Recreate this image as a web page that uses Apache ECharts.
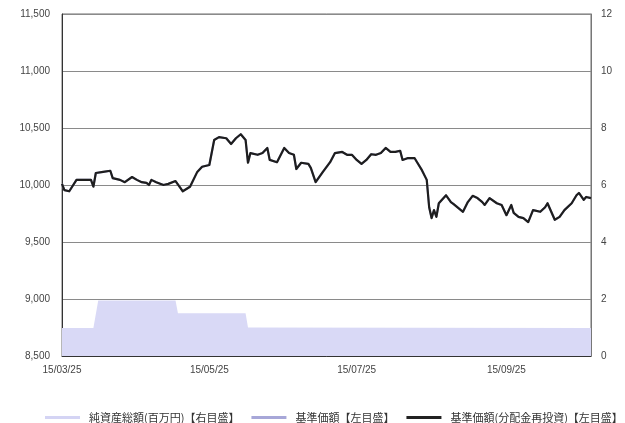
<!DOCTYPE html>
<html>
<head>
<meta charset="utf-8">
<script src="https://cdn.jsdelivr.net/npm/echarts@6/dist/echarts.min.js"></script>
<style>
  html, body { margin: 0; padding: 0; background: #fff; }
  #chart { width: 625px; height: 423px; }
</style>
</head>
<body>
<div id="chart"></div>
<script>
// 基準価額（分配金再投資）の推移 — 日付と値
const navDates = [
  '2015-03-25','2015-03-26','2015-03-28','2015-03-31','2015-04-06','2015-04-07','2015-04-08','2015-04-11',
  '2015-04-14','2015-04-15','2015-04-18','2015-04-20','2015-04-23','2015-04-25','2015-04-27','2015-04-29',
  '2015-04-30','2015-05-01','2015-05-03','2015-05-06','2015-05-08','2015-05-11','2015-05-13','2015-05-14',
  '2015-05-17','2015-05-20','2015-05-22','2015-05-25','2015-05-27','2015-05-29','2015-06-01','2015-06-03',
  '2015-06-05','2015-06-07','2015-06-09','2015-06-10','2015-06-11','2015-06-14','2015-06-16','2015-06-18',
  '2015-06-19','2015-06-22','2015-06-25','2015-06-27','2015-06-29','2015-06-30','2015-07-02','2015-07-05',
  '2015-07-06','2015-07-08','2015-07-11','2015-07-14','2015-07-16','2015-07-19','2015-07-21','2015-07-23',
  '2015-07-25','2015-07-27','2015-07-29','2015-07-31','2015-08-02','2015-08-04','2015-08-06','2015-08-08',
  '2015-08-10','2015-08-12','2015-08-13','2015-08-15','2015-08-18','2015-08-19','2015-08-21','2015-08-23',
  '2015-08-24','2015-08-25','2015-08-26','2015-08-27','2015-08-28','2015-08-31','2015-09-02','2015-09-03',
  '2015-09-05','2015-09-07','2015-09-09','2015-09-11','2015-09-13','2015-09-15','2015-09-16','2015-09-18',
  '2015-09-21','2015-09-23','2015-09-25','2015-09-27','2015-09-28','2015-09-30','2015-10-02','2015-10-04',
  '2015-10-06','2015-10-09','2015-10-11','2015-10-12','2015-10-15','2015-10-17','2015-10-19','2015-10-22',
  '2015-10-24','2015-10-25','2015-10-27','2015-10-28','2015-10-30'
];
const navValues = [
  10010, 9955, 9945,10045,10045, 9985,10105,10115,
  10125,10060,10045,10025,10070,10045,10025,10018,
  10000,10045,10025,10000,10010,10035, 9975, 9945,
   9985,10115,10160,10175,10395,10420,10410,10360,
  10410,10445,10395,10195,10280,10265,10280,10325,
  10220,10200,10325,10280,10265,10140,10195,10185,
  10150,10025,10115,10200,10280,10290,10265,10265,
  10220,10185,10220,10270,10265,10280,10325,10290,
  10290,10300,10220,10235,10235,10200,10130,10045,
   9805, 9710, 9780, 9720, 9840, 9910, 9850, 9835,
   9800, 9765, 9850, 9905, 9885, 9850, 9825, 9885,
   9840, 9825, 9735, 9825, 9755, 9720, 9710, 9675,
   9780, 9765, 9805, 9840, 9695, 9720, 9780, 9840,
   9910, 9930, 9870, 9895, 9885
];

// 純資産総額（百万円）
const assetDates  = ['2015-03-25','2015-04-07','2015-04-09','2015-05-11','2015-05-12','2015-06-09','2015-06-10','2015-10-30'];
const assetValues = [0.98, 0.98, 1.95, 1.95, 1.5, 1.5, 1.0, 0.98];

// 軸目盛
const xTickDates = ['2015-03-25','2015-05-25','2015-07-25','2015-09-25'];
const xStart = '2015-03-25';
const xEnd = '2015-10-30';
const leftMin = 8500, leftMax = 11500, leftStep = 500;
const rightMin = 0, rightMax = 12, rightStep = 2;

const seriesNames = ['純資産総額(百万円)【右目盛】', '基準価額【左目盛】', '基準価額(分配金再投資)【左目盛】'];

// 日付は起点からの日数として横軸に置く
const DAY = 86400000;
function utc(s) {
  const p = s.split('-').map(Number);
  return Date.UTC(p[0], p[1] - 1, p[2]);
}
const origin = utc(xStart);
function dayOf(s) { return Math.round((utc(s) - origin) / DAY); }
function pairs(dates, values) { return dates.map((d, i) => [dayOf(d), values[i]]); }
function pad(n) { return (n < 10 ? '0' : '') + n; }
function dayLabel(n) {
  const d = new Date(origin + n * DAY);
  return pad(d.getUTCFullYear() % 100) + '/' + pad(d.getUTCMonth() + 1) + '/' + pad(d.getUTCDate());
}

const fontFamily = '"Liberation Sans", Arial, "Noto Sans CJK JP", sans-serif';
const tickDays = xTickDates.map(dayOf);

const chart = echarts.init(document.getElementById('chart'), null, { renderer: 'canvas' });
chart.setOption({
  animation: false,
  backgroundColor: '#ffffff',
  textStyle: { fontFamily: fontFamily },
  grid: {
    left: 62, right: 34, top: 14, bottom: 67,
    show: true, borderColor: '#6e6e6e', borderWidth: 1, backgroundColor: 'transparent'
  },
  legend: {
    left: 40, top: 407, width: 585,
    itemWidth: 35, itemHeight: 3, itemGap: 12,
    icon: 'rect',
    textStyle: {
      color: '#333', fontSize: 11,
      fontFamily: '"Noto Sans CJK JP", sans-serif',
      padding: [0, 0, 0, 4]
    },
    data: [
      { name: seriesNames[0], itemStyle: { color: '#d4d4f4' } },
      { name: seriesNames[1], itemStyle: { color: '#a7a7d8' } },
      { name: seriesNames[2], itemStyle: { color: '#222' } }
    ]
  },
  xAxis: {
    type: 'value',
    min: 0, max: dayOf(xEnd),
    axisLine: { show: true, lineStyle: { color: '#333', width: 1 } },
    axisTick: { show: true, inside: true, length: 3, customValues: tickDays, lineStyle: { color: '#333' } },
    axisLabel: {
      customValues: tickDays,
      color: '#444', fontSize: 10, margin: 9,
      formatter: function (v) { return dayLabel(v); }
    },
    splitLine: { show: false }
  },
  yAxis: [
    {
      type: 'value', position: 'left',
      min: leftMin, max: leftMax, interval: leftStep,
      axisLine: { show: true, lineStyle: { color: '#333', width: 1 } },
      axisTick: { show: false },
      axisLabel: {
        color: '#444', fontSize: 10, margin: 12,
        formatter: function (v) { return v.toLocaleString('en-US'); }
      },
      splitLine: { show: true, lineStyle: { color: '#8a8a8a', width: 1.2 } }
    },
    {
      type: 'value', position: 'right',
      min: rightMin, max: rightMax, interval: rightStep,
      axisLine: { show: true, lineStyle: { color: '#777', width: 1 } },
      axisTick: { show: false },
      axisLabel: { color: '#444', fontSize: 10, margin: 10 },
      splitLine: { show: false }
    }
  ],
  series: [
    {
      name: seriesNames[0],
      type: 'line',
      yAxisIndex: 1,
      data: pairs(assetDates, assetValues),
      symbol: 'none',
      lineStyle: { width: 0, color: '#d4d4f4' },
      itemStyle: { color: '#d4d4f4' },
      areaStyle: { color: '#d9d9f6', opacity: 1 },
      z: 1
    },
    {
      name: seriesNames[1],
      type: 'line',
      yAxisIndex: 0,
      data: pairs(navDates, navValues),
      symbol: 'none',
      lineStyle: { width: 2, color: '#a7a7d8' },
      itemStyle: { color: '#a7a7d8' },
      z: 2
    },
    {
      name: seriesNames[2],
      type: 'line',
      yAxisIndex: 0,
      data: pairs(navDates, navValues),
      symbol: 'none',
      lineStyle: { width: 2.2, color: '#1e1e1e', join: 'round' },
      itemStyle: { color: '#1e1e1e' },
      z: 3
    }
  ]
});
</script>
</body>
</html>
